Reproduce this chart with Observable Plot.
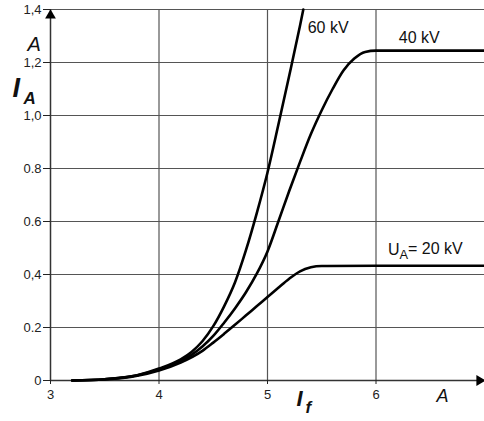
<!DOCTYPE html>
<html><head><meta charset="utf-8">
<script src="https://cdn.jsdelivr.net/npm/d3@7"></script>
<script src="https://cdn.jsdelivr.net/npm/@observablehq/plot@0.6"></script>
<style>
body{margin:0;background:#fff}
</style>
</head><body><div id="chart"></div>
<script>
// Heating current I_f (A) vs anode current I_A (A) for three tube voltages
const x20 = [3.2,3.5,3.8,4.0,4.2,4.4,4.5,4.6,4.7,4.8,4.9,5.0,5.1,5.2,5.3,5.4,5.5,6.0,7.0];
const y20 = [0,0.004,0.018,0.038,0.068,0.112,0.143,0.176,0.21,0.245,0.28,0.315,0.35,0.384,0.412,0.427,0.432,0.433,0.433];
const x40 = [3.2,3.5,3.8,4.0,4.2,4.3,4.4,4.5,4.6,4.7,4.8,4.9,5.0,5.1,5.2,5.3,5.4,5.5,5.6,5.7,5.8,5.9,6.0,7.0];
const y40 = [0,0.005,0.02,0.042,0.074,0.097,0.128,0.168,0.218,0.272,0.332,0.402,0.487,0.60,0.715,0.825,0.93,1.02,1.10,1.17,1.215,1.24,1.245,1.245];
const x60 = [3.2,3.5,3.8,4.0,4.2,4.3,4.4,4.5,4.6,4.7,4.8,4.9,5.0,5.1,5.2,5.3,5.33];
const y60 = [0,0.005,0.02,0.045,0.08,0.108,0.148,0.205,0.28,0.37,0.49,0.63,0.785,0.965,1.15,1.34,1.4];
const seriesNames = ["UA= 20 kV","40 kV","60 kV"];
const xTicks = [3,4,5,6];
const yTicks = [0,0.2,0.4,0.6,0.8,1.0,1.2,1.4];
const yTickLabels = ["0","0.2","0,4","0.6","0.8","1,0","1,2","1,4"];

const rows = [];
[[x20,y20],[x40,y40],[x60,y60]].forEach(([xs,ys],k)=>xs.forEach((x,i)=>rows.push({series:seriesNames[k],x,y:ys[i]})));

const tickFont = '"Liberation Sans Narrow","Liberation Sans",Arial,sans-serif';
const labelFont = '"Liberation Sans",Arial,sans-serif';

const curveLabels = [
  {text: seriesNames[2], x: 5.37, y: 1.332},
  {text: seriesNames[1], x: 6.21, y: 1.294},
  {text: seriesNames[0], x: 6.11, y: 0.494}
];

const plot = Plot.plot({
  width: 484, height: 421,
  marginLeft: 50, marginRight: 0, marginTop: 9, marginBottom: 41,
  style: {fontFamily: labelFont, color: "#222", background: "#fff"},
  x: {domain: [3,7]},
  y: {domain: [0,1.4]},
  marks: [
    Plot.ruleY(yTicks.slice(1), {x1: 3, x2: 7, stroke: "#555", strokeWidth: 1.2}),
    Plot.ruleX(xTicks.slice(1), {y1: 0, y2: 1.4, stroke: "#555", strokeWidth: 1.2}),
    Plot.ruleX([3], {y1: 0, y2: 1.4, stroke: "#333", strokeWidth: 1.5}),
    Plot.ruleY([0], {x1: 3, x2: 7, stroke: "#333", strokeWidth: 1.5}),
    Plot.axisX({ticks: xTicks, tickFormat: "d", tickSize: 4, tickPadding: 5, label: null}),
    Plot.axisY({ticks: yTicks, tickSize: 7, tickPadding: 2, label: null,
      tickFormat: d => yTickLabels[yTicks.findIndex(t => Math.abs(t-d) < 1e-9)]}),
    Plot.line(rows, {x: "x", y: "y", z: "series", curve: "monotone-x", stroke: "#000", strokeWidth: 2.6}),
    Plot.dot([{x: 3, y: 1.4}], {x: "x", y: "y", symbol: "triangle", r: 4, fill: "#000", stroke: null, dy: 6}),
    Plot.dot([{x: 7, y: 0}], {x: "x", y: "y", symbol: "triangle", rotate: 90, r: 4, fill: "#000", stroke: null, dx: -5}),
    Plot.text(curveLabels, {x: "x", y: "y", text: "text", textAnchor: "start", fontSize: 16, fontFamily: labelFont, fill: "#111"}),
    Plot.text(["A"], {frameAnchor: "top-left", dx: -23, dy: 27, fontSize: 20, fontStyle: "italic", fontFamily: labelFont, fill: "#111"}),
    Plot.text(["I"], {frameAnchor: "top-left", dx: -38, dy: 68, fontSize: 27, fontStyle: "italic", fontWeight: "bold", fontFamily: labelFont, fill: "#111"}),
    Plot.text(["A"], {frameAnchor: "top-left", dx: -27, dy: 82, fontSize: 17, fontStyle: "italic", fontWeight: "bold", fontFamily: labelFont, fill: "#111"}),
    Plot.text(["I"], {frameAnchor: "bottom-left", dx: 246, dy: 25, fontSize: 22, fontStyle: "italic", fontWeight: "bold", fontFamily: labelFont, fill: "#111"}),
    Plot.text(["f"], {frameAnchor: "bottom-left", dx: 255, dy: 32, fontSize: 17, fontStyle: "italic", fontWeight: "bold", fontFamily: labelFont, fill: "#111"}),
    Plot.text(["A"], {frameAnchor: "bottom-left", dx: 386, dy: 21, fontSize: 18, fontStyle: "italic", fontFamily: labelFont, fill: "#111"})
  ]
});

const sel = d3.select(plot);
sel.selectAll("g").filter(function(){ return /tick label/.test(this.getAttribute("aria-label") || ""); })
  .attr("font-size", 13).attr("font-family", tickFont)
  .selectAll("text").attr("font-size", 13).style("font-size", "13px");

sel.selectAll("text").filter(function(){ return this.textContent === seriesNames[0]; })
  .each(function(){
    const t = d3.select(this);
    t.text(null);
    t.append("tspan").text("U");
    t.append("tspan").attr("dy", "0.3em").attr("font-size", "0.8em").text("A");
    t.append("tspan").attr("dy", "-0.3em").text("= 20 kV");
  });

document.getElementById("chart").appendChild(plot);
</script>
</body></html>
